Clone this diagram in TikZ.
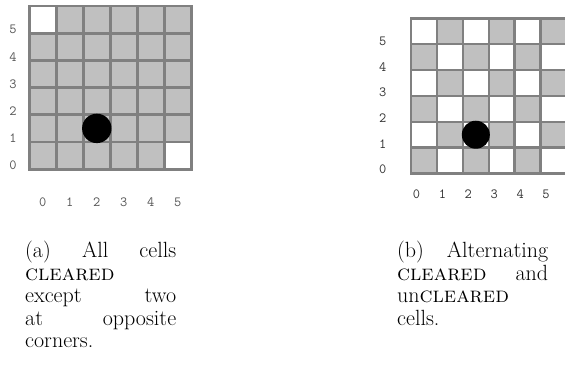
\documentclass[tikz,border=0pt]{standalone}
\usepackage{fontspec}
\definecolor{gridline}{HTML}{808080}
\definecolor{cellgray}{HTML}{C0C0C0}
\definecolor{labgray}{HTML}{555555}
\definecolor{labdark}{HTML}{333333}
\tikzset{
  gridrule/.style={draw=gridline, line cap=rect},
  axislab/.style={inner sep=0pt, font=\fontsize{14}{14}\selectfont\ttfamily},
  capt/.style={inner sep=0pt, align=left, anchor=base west,
    font=\fontsize{22}{22.4}\selectfont},
  token/.style={fill=black}
}
\begin{document}
\begin{tikzpicture}[x=1pt,y=-1pt]
\path[use as bounding box, clip] (0,0) rectangle (565,366);
\fill[white] (0,0) rectangle (565,366);

% ---- left board: everything cleared except two opposite corners
\def\ax{29.3}\def\ay{6}\def\adx{27}\def\ady{27.2}
\fill[cellgray] (\ax,\ay) rectangle ({\ax+6*\adx},{\ay+6*\ady});
\fill[white] (\ax,\ay) rectangle ({\ax+\adx},{\ay+\ady});
\fill[white] ({\ax+5*\adx},{\ay+5*\ady}) rectangle ({\ax+6*\adx},{\ay+6*\ady});
\foreach \i in {0,...,6}{
  \draw[gridrule, line width=2.7pt] ({\ax+\i*\adx},\ay) -- ({\ax+\i*\adx},{\ay+6*\ady});
  \draw[gridrule, line width=2.7pt] (\ax,{\ay+\i*\ady}) -- ({\ax+6*\adx},{\ay+\i*\ady});
}
% token on cell (2,1)
\fill[token] ({\ax+2.5*\adx},{\ay+4.5*\ady}) circle (14.7);
\foreach \k in {0,...,5}{
  \node[axislab, text=labgray] (arow\k) at (13,{29.5+\ady*(5-\k)}) {\k};
  \node[axislab, text=labgray] (acol\k) at ({\ax+(\k+0.5)*\adx},202) {\k};
}

% ---- right board: alternating cleared and uncleared cells
\def\bx{411.2}\def\by{18.4}\def\bd{25.85}
\foreach \c in {0,...,5}{
  \foreach \r in {0,...,5}{
    \pgfmathtruncatemacro{\cellpar}{mod(\c+\r,2)}
    \ifnum\cellpar=0
      \fill[cellgray] ({\bx+\c*\bd},{\by+(5-\r)*\bd}) rectangle ({\bx+(\c+1)*\bd},{\by+(6-\r)*\bd});
    \else
      \fill[white] ({\bx+\c*\bd},{\by+(5-\r)*\bd}) rectangle ({\bx+(\c+1)*\bd},{\by+(6-\r)*\bd});
    \fi
  }
}
\foreach \i in {0,...,6}{
  \draw[gridrule, line width=2.3pt] ({\bx+\i*\bd},\by) -- ({\bx+\i*\bd},{\by+6*\bd});
  \draw[gridrule, line width=2.3pt] (\bx,{\by+\i*\bd}) -- ({\bx+6*\bd},{\by+\i*\bd});
}
% token on cell (2,1)
\fill[token] ({\bx+2.5*\bd},{\by+4.5*\bd}) circle (14);
\foreach \k in {0,...,5}{
  \node[axislab, text=labdark] (brow\k) at (382.7,{41.7+25.5*(5-\k)}) {\k};
  \node[axislab, text=labdark] (bcol\k) at ({416.5+25.9*\k},194) {\k};
}

% ---- captions
\node[capt, text width=151pt] (capa) at (25,258)
  {(a)\hfill All\hfill cells\\
   \textsc{cleared}\\
   except\hfill two\\
   at\hfill opposite\\
   corners.};
\node[capt, text width=151pt] (capb) at (397,258)
  {(b)\hfill Alternating\\
   \textsc{cleared}\hfill and\\
   un\textsc{cleared}\\
   cells.};
\end{tikzpicture}
\end{document}
